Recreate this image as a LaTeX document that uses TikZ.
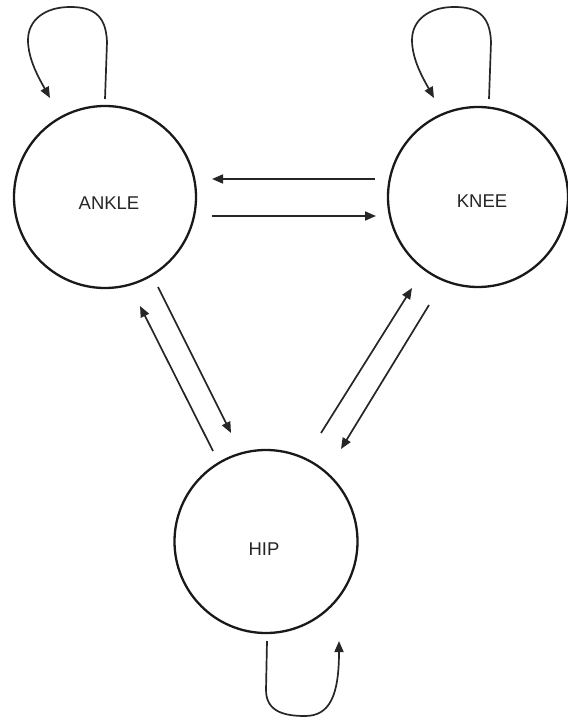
\documentclass[tikz,border=0pt]{standalone}
\usepackage{fontspec}
\setmainfont{Liberation Sans}
\usetikzlibrary{arrows.meta}
\begin{document}
\begin{tikzpicture}[x=1pt,y=-1pt,
  statecircle/.style={circle,draw=black!90,line width=2.3pt,inner sep=0pt,minimum size=#1},
  lbl/.style={font=\fontsize{18.5}{18.5}\selectfont,text=black!85},
  arr/.style={draw=black!85,line width=1.7pt,-{Triangle[length=11pt,width=9pt]}}]
\useasboundingbox (0,0) rectangle (567,719);
% states
\node[statecircle=182pt,label={[lbl,xshift=4pt,yshift=-6pt]center:ANKLE}] (ankle) at (105,197) {};
\node[statecircle=180pt,label={[lbl,xshift=4pt,yshift=-4pt]center:KNEE}] (knee) at (478,197) {};
\node[statecircle=183pt,label={[lbl,xshift=-2pt,yshift=-8pt]center:HIP}] (hip) at (266,541.5) {};
% endpoints of connectors
\coordinate (kaS) at (375,179); \coordinate (kaE) at (212,179);
\coordinate (akS) at (212,216); \coordinate (akE) at (376,216);
\coordinate (ahS) at (158,287); \coordinate (ahE) at (231,433);
\coordinate (haS) at (213,451); \coordinate (haE) at (140,306);
\coordinate (hkS) at (321,433); \coordinate (hkE) at (412,288);
\coordinate (khS) at (429,305); \coordinate (khE) at (341,449);
\draw[arr] (kaS) -- (kaE);
\draw[arr] (akS) -- (akE);
\draw[arr] (ahS) -- (ahE);
\draw[arr] (haS) -- (haE);
\draw[arr] (hkS) -- (hkE);
\draw[arr] (khS) -- (khE);
% self loops
\coordinate (alS) at (105,99); \coordinate (alE) at (50,98);
\draw[arr] (alS) -- (107,42) .. controls (106,14) and (92,7) .. (70,7)
  .. controls (45,7) and (28,20) .. (28,40)
  .. controls (28,60) and (40,80) .. (alE);
\coordinate (klS) at (489,99); \coordinate (klE) at (434,98);
\draw[arr] (klS) -- (491,42) .. controls (490,14) and (476,7) .. (454,7)
  .. controls (429,7) and (412,20) .. (412,40)
  .. controls (412,60) and (424,80) .. (klE);
\coordinate (hlS) at (267,641); \coordinate (hlE) at (339,641);
\draw[arr] (hlS) -- (266,690) .. controls (266,712) and (285,716) .. (305,716)
  .. controls (330,716) and (339,695) .. (hlE);
\end{tikzpicture}
\end{document}
